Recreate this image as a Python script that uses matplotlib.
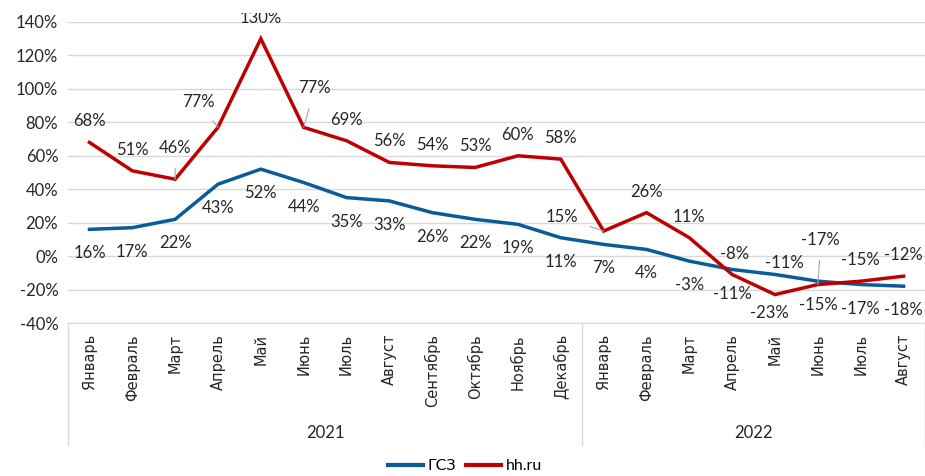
import matplotlib
matplotlib.use("Agg")
from matplotlib import pyplot as plt
from matplotlib.lines import Line2D
import matplotlib.transforms as mtransforms

# data
months = ['Январь', 'Февраль', 'Март', 'Апрель', 'Май', 'Июнь', 'Июль', 'Август',
          'Сентябрь', 'Октябрь', 'Ноябрь', 'Декабрь',
          'Январь', 'Февраль', 'Март', 'Апрель', 'Май', 'Июнь', 'Июль', 'Август']
years = ['2021', '2022']
year_sizes = [12, 8]
gsz = [16, 17, 22, 43, 52, 44, 35, 33, 26, 22, 19, 11,
       7, 4, -3, -8, -11, -15, -17, -18]
hh = [68, 51, 46, 77, 130, 77, 69, 56, 54, 53, 60, 58,
      15, 26, 11, -11, -23, -17, -15, -12]

BLUE = '#0b5a99'
RED = '#c00000'
GRID = '#d9d9d9'
FONT = ['Lato', 'DejaVu Sans']

# label offsets in pixels (dx, dy); leader line where flagged
hh_off = {2: (0, 31, True), 3: (-20, 25, True), 5: (11, 39, True),
          12: (-42, 14, True), 15: (0, -19, False), 16: (-6, -18, False),
          17: (3, 45, True)}
gsz_off = {15: (2, 15, False), 16: (9, 12, False)}

fig = plt.figure(figsize=(9.25, 4.76), dpi=100)
ax = fig.add_axes([68 / 925, 1 - 323 / 476, 1 - 68 / 925, (323 - 22) / 476])

x = list(range(len(months)))
ax.plot(x, gsz, color=BLUE, lw=2.5, solid_joinstyle='miter', zorder=3)
ax.plot(x, hh, color=RED, lw=2.5, solid_joinstyle='miter', zorder=3)

ax.set_xlim(-0.5, len(months) - 0.5)
ax.set_ylim(-40, 140)
ax.set_yticks(range(-40, 141, 20))
ax.set_yticklabels([f'{v}%' for v in range(-40, 141, 20)], fontsize=12,
                   family=FONT, color='#262626')
ax.tick_params(axis='y', length=0, pad=7)
ax.grid(axis='y', color=GRID, lw=1)
ax.set_axisbelow(True)
for s in ['top', 'right', 'left']:
    ax.spines[s].set_visible(False)
ax.spines['bottom'].set_color(GRID)

ax.set_xticks(x)
ax.set_xticklabels(months, rotation=90, fontsize=10.5, va='top', color='#262626')
ax.tick_params(axis='x', length=0, pad=8)

# the chart area in the original cuts off the top of the highest label
clip = mtransforms.Bbox.from_extents(0, 0, 925, 476 - 13)


def put_labels(vals, offs, default_dy):
    for i, v in enumerate(vals):
        dx, dy, lead = offs.get(i, (0, default_dy, False))
        kw = {}
        if lead:
            kw['arrowprops'] = dict(arrowstyle='-', color='#a6a6a6', lw=0.8,
                                    shrinkA=7, shrinkB=0)
        t = ax.annotate(f'{v}%', (i, v), xytext=(dx * 0.72, dy * 0.72),
                        textcoords='offset points', ha='center', va='center',
                        fontsize=12, family=FONT,
                        color='#262626', annotation_clip=False, zorder=4, **kw)
        t.set_clip_box(clip)
        t.set_clip_on(True)


put_labels(hh, hh_off, 21)
put_labels(gsz, gsz_off, -24)

# year groups below month labels
trans = mtransforms.blended_transform_factory(ax.transData, ax.transAxes)
bottom = -(445 - 323) / 301
start = -0.5
edges = [start]
for yr, n in zip(years, year_sizes):
    ax.text(start + n / 2, -(433 - 323) / 301, yr, transform=trans,
            ha='center', va='center', fontsize=12,
            family=FONT, color='#262626')
    start += n
    edges.append(start)
for e in edges:
    ax.plot([e, e], [0, bottom], transform=trans, color=GRID, lw=1, clip_on=False)

handles = [Line2D([], [], color=BLUE, lw=3), Line2D([], [], color=RED, lw=3)]
fig.legend(handles, ['ГСЗ', 'hh.ru'], loc='center', bbox_to_anchor=(465 / 925, 1 - 466 / 476),
           ncol=2, frameon=False, handlelength=2.2, columnspacing=0.6, handletextpad=0.3,
           prop={'family': FONT, 'size': 11.5})

fig.savefig('out.png', dpi=100)
